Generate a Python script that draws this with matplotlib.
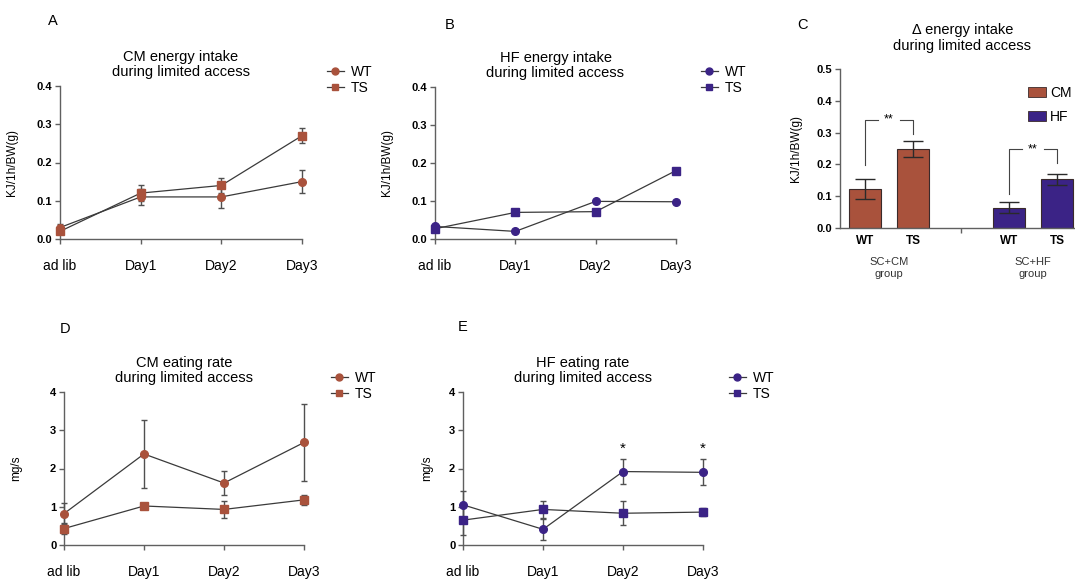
import numpy as np
import matplotlib
matplotlib.use('Agg')
import matplotlib.pyplot as plt
from matplotlib.patches import Patch
from matplotlib.lines import Line2D

plt.rcParams['font.family'] = ['Liberation Sans', 'DejaVu Sans']

# ---- data ----
days = ['ad lib', 'Day1', 'Day2', 'Day3']

# A: CM energy intake (KJ/1h/BW(g))
cm_wt = [0.03, 0.11, 0.11, 0.15]
cm_wt_err = [0.008, 0.02, 0.03, 0.03]
cm_ts = [0.02, 0.12, 0.14, 0.27]
cm_ts_err = [0.008, 0.02, 0.02, 0.02]

# B: HF energy intake
hf_wt = [0.033, 0.02, 0.099, 0.098]
hf_wt_err = [0.003, 0.002, 0.002, 0.002]
hf_ts = [0.027, 0.07, 0.072, 0.18]
hf_ts_err = [0.003, 0.002, 0.002, 0.006]

# C: delta energy intake
bar_labels = ['WT', 'TS', 'WT', 'TS']
bar_vals = [0.123, 0.249, 0.064, 0.153]
bar_err = [0.032, 0.026, 0.018, 0.018]
group_labels = ['SC+CM\ngroup', 'SC+HF\ngroup']

# D: CM eating rate (mg/s)
cmr_wt = [0.82, 2.38, 1.62, 2.68]
cmr_wt_err = [0.28, 0.88, 0.31, 1.0]
cmr_ts = [0.43, 1.02, 0.93, 1.18]
cmr_ts_err = [0.15, 0.06, 0.22, 0.14]

# E: HF eating rate (mg/s)
hfr_wt = [1.05, 0.41, 1.92, 1.90]
hfr_wt_err = [0.35, 0.28, 0.32, 0.34]
hfr_ts = [0.65, 0.93, 0.83, 0.86]
hfr_ts_err = [0.38, 0.22, 0.31, 0.10]

CM_COL = '#a9523c'
HF_COL = '#3b2386'
LINE_COL = '#3a3a3a'
SPINE_COL = '#606060'

W, H = 1075, 580
fig = plt.figure(figsize=(W / 100, H / 100), dpi=100)


def rect(x0, x1, ytop, ybot):
    return [x0 / W, 1 - ybot / H, (x1 - x0) / W, (ybot - ytop) / H]


def style_axes(ax):
    for s in ['top', 'right']:
        ax.spines[s].set_visible(False)
    for s in ['left', 'bottom']:
        ax.spines[s].set_color(SPINE_COL)
        ax.spines[s].set_linewidth(1.0)
    ax.tick_params(axis='y', direction='out', length=3.5, width=1.0, color=SPINE_COL,
                   labelsize=8, pad=2)
    for t in ax.get_yticklabels():
        t.set_fontweight('bold')


def line_panel(rc, wt, wt_err, ts, ts_err, color, ymax, yticks, yfmt,
               title, ylabel, ylab_x, leg_xy, letter, letter_xy):
    ax = fig.add_axes(rect(*rc))
    x = np.arange(len(days))
    for vals, err, mk in [(wt, wt_err, 'o'), (ts, ts_err, 's')]:
        ax.errorbar(x, vals, yerr=err, color=LINE_COL, lw=0.9, ecolor='#505050',
                    elinewidth=1.0, capsize=2.5, capthick=1.0, marker=mk,
                    markersize=5.5, markerfacecolor=color, markeredgecolor=color,
                    clip_on=False, zorder=3)
    ax.set_xlim(0, 3)
    ax.set_ylim(0, ymax)
    ax.set_xticks(x)
    ax.set_xticklabels(days, fontsize=10)
    ax.tick_params(axis='x', direction='out', length=3.5, width=1.0, color=SPINE_COL,
                   pad=11)
    ax.set_yticks(yticks)
    ax.set_yticklabels([yfmt.format(v) for v in yticks])
    style_axes(ax)
    ax.set_title(title, fontsize=10.5, pad=7, linespacing=1.1)
    ax.set_ylabel(ylabel, fontsize=8.5)
    ax.yaxis.set_label_coords(ylab_x, 0.5)
    handles = [Line2D([], [], color=LINE_COL, lw=0.9, marker='o', markersize=5,
                      markerfacecolor=color, markeredgecolor=color),
               Line2D([], [], color=LINE_COL, lw=0.9, marker='s', markersize=5,
                      markerfacecolor=color, markeredgecolor=color)]
    ax.legend(handles, ['WT', 'TS'], loc='upper left', frameon=False, fontsize=10,
              bbox_to_anchor=(leg_xy[0] / W, 1 - leg_xy[1] / H),
              bbox_transform=fig.transFigure, borderpad=0, borderaxespad=0,
              handlelength=1.2, handletextpad=0.5, labelspacing=0.15)
    fig.text(letter_xy[0] / W, 1 - letter_xy[1] / H, letter, fontsize=10.5,
             ha='center', va='center')
    return ax


line_panel((60, 302, 86, 239), cm_wt, cm_wt_err, cm_ts, cm_ts_err, CM_COL, 0.4,
           [0, 0.1, 0.2, 0.3, 0.4], '{:.1f}', 'CM energy intake\nduring limited access',
           'KJ/1h/BW(g)', -0.175, (327, 65), 'A', (53, 21))
line_panel((435, 676, 87, 239), hf_wt, hf_wt_err, hf_ts, hf_ts_err, HF_COL, 0.4,
           [0, 0.1, 0.2, 0.3, 0.4], '{:.1f}', 'HF energy intake\nduring limited access',
           'KJ/1h/BW(g)', -0.175, (701, 65), 'B', (450, 25))
line_panel((64, 304, 392, 545), cmr_wt, cmr_wt_err, cmr_ts, cmr_ts_err, CM_COL, 4,
           [0, 1, 2, 3, 4], '{:d}', 'CM eating rate\nduring limited access',
           'mg/s', -0.175, (331, 371), 'D', (65, 329))
axE = line_panel((463, 703, 392, 545), hfr_wt, hfr_wt_err, hfr_ts, hfr_ts_err, HF_COL, 4,
                 [0, 1, 2, 3, 4], '{:d}', 'HF eating rate\nduring limited access',
                 'mg/s', -0.125, (729, 371), 'E', (463, 327))
for i in [2, 3]:
    axE.text(i, hfr_wt[i] + hfr_wt_err[i] + 0.1, '*', ha='center', va='bottom',
             fontsize=11)

# ---- C: bar chart ----
axC = fig.add_axes(rect(840, 1075, 69, 228))
pos = [0, 1, 3, 4]
cols = [CM_COL, CM_COL, HF_COL, HF_COL]
axC.bar(pos, bar_vals, width=0.67, color=cols, edgecolor='#3a2a2a', linewidth=0.8,
        zorder=2)
axC.errorbar(pos, bar_vals, yerr=bar_err, fmt='none', ecolor='#2a2a2a',
             elinewidth=1.0, capsize=7, capthick=1.0, zorder=3)
axC.set_xlim(-0.52, (1075 - 840) / 48 - 0.52)
axC.set_ylim(0, 0.5)
axC.set_yticks([0, 0.1, 0.2, 0.3, 0.4, 0.5])
axC.set_yticklabels(['{:.1f}'.format(v) for v in [0, 0.1, 0.2, 0.3, 0.4, 0.5]])
axC.set_xticks(pos)
axC.set_xticklabels(bar_labels, fontsize=8.5, fontweight='bold')
axC.tick_params(axis='x', length=0, pad=5)
axC.set_xticks([2], minor=True)
axC.tick_params(axis='x', which='minor', length=3.5, width=1.0, color=SPINE_COL)
style_axes(axC)
axC.set_title('\u0394 energy intake\nduring limited access', fontsize=10.5, pad=14,
              linespacing=1.1, x=0.52)
axC.set_ylabel('KJ/1h/BW(g)', fontsize=8.5)
axC.yaxis.set_label_coords(-0.16, 0.5)
for gx, gl in zip([0.5, 3.5], group_labels):
    axC.text(gx, -0.18, gl, transform=axC.get_xaxis_transform(), ha='center',
             va='top', fontsize=8, linespacing=1.25, color='#333333')

# significance brackets
for (xl, xr), (yl, ytop, yr) in zip([(0, 1), (3, 4)],
                                    [(0.197, 0.34, 0.295), (0.106, 0.248, 0.203)]):
    xm = (xl + xr) / 2
    axC.plot([xl, xl, xm - 0.22], [yl, ytop, ytop], color='#444444', lw=0.8)
    axC.plot([xm + 0.22, xr, xr], [ytop, ytop, yr], color='#444444', lw=0.8)
    axC.text(xm, ytop, '**', ha='center', va='center', fontsize=9)

legC = [Patch(facecolor=CM_COL, edgecolor='#3a2a2a', linewidth=0.6, label='CM'),
        Patch(facecolor=HF_COL, edgecolor='#3a2a2a', linewidth=0.6, label='HF')]
axC.legend(handles=legC, loc='upper left', frameon=False, fontsize=10,
           bbox_to_anchor=(1028 / W, 1 - 86 / H), bbox_transform=fig.transFigure,
           borderpad=0, borderaxespad=0, handlelength=1.3, handleheight=0.7,
           handletextpad=0.3, labelspacing=0.7)
fig.text(803 / W, 1 - 25 / H, 'C', fontsize=10.5, ha='center', va='center')

fig.savefig('out.png', dpi=100, facecolor='white')
